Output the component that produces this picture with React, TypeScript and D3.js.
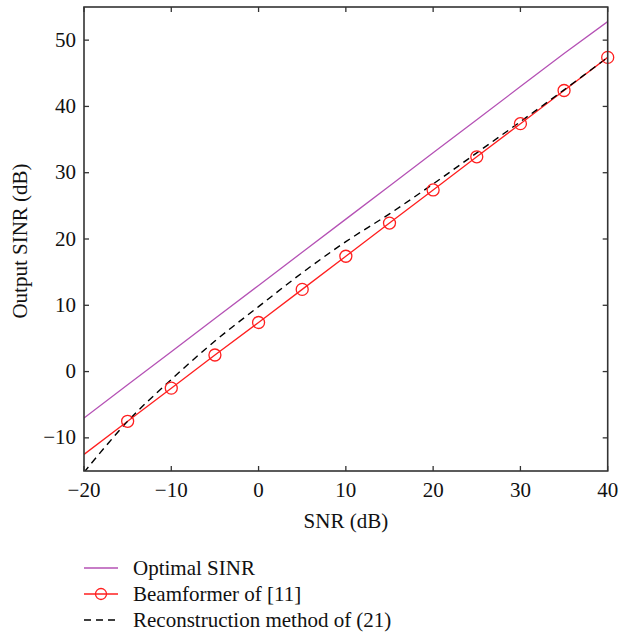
import React from "react";
import * as d3 from "d3";

const snr = [-20, -15, -10, -5, 0, 5, 10, 15, 20, 25, 30, 35, 40];
const optimal = [-7, -2, 3, 8, 13, 18, 23, 28, 33, 38, 43, 48, 52.8];
const beamformer = [-12.5, -7.5, -2.5, 2.5, 7.4, 12.4, 17.4, 22.4, 27.4, 32.4, 37.4, 42.4, 47.4];
const reconstruction = [-15.2, -7.5, -1.2, 4.6, 9.8, 14.9, 19.6, 23.8, 28.3, 33.0, 37.7, 42.5, 47.4];
const xTicks = [-20, -10, 0, 10, 20, 30, 40];
const yTicks = [-10, 0, 10, 20, 30, 40, 50];
const legendLabels = ["Optimal SINR", "Beamformer of [11]", "Reconstruction method of (21)"];

const W = 634, H = 633;
const L = 84, R = 607.7, T = 7, B = 471;
const PURPLE = "#b552b5";
const RED = "#ff1f1f";
const AXIS = "#333333";
const FS = 21;

const fmt = (v: number) => (v < 0 ? "\u2212" + Math.abs(v) : String(v));
const ts: React.CSSProperties = { fontFamily: "'Liberation Serif'", fontSize: FS };

export default function App() {
  const x = d3.scaleLinear().domain([-20, 40]).range([L, R]);
  const y = d3.scaleLinear().domain([-15, 55]).range([B, T]);
  const line = d3.line<number>().x((_, i) => x(snr[i])).y((d) => y(d));
  const smooth = d3
    .line<number>()
    .x((_, i) => x(snr[i]))
    .y((d) => y(d))
    .curve(d3.curveCatmullRom);

  return (
    <svg width={W} height={H} style={{ position: "absolute", left: 0, top: 0 }}>
      <defs>
        <clipPath id="plotclip">
          <rect x={L} y={T} width={R - L} height={B - T} />
        </clipPath>
      </defs>
      <g clipPath="url(#plotclip)" fill="none">
        <path d={line(optimal) || ""} stroke={PURPLE} strokeWidth={1.3} />
        <path d={line(beamformer) || ""} stroke={RED} strokeWidth={1.3} />
        <path d={smooth(reconstruction) || ""} stroke="#000" strokeWidth={1.4} strokeDasharray="7,5" />
      </g>
      <g fill="none" stroke={RED} strokeWidth={1.3}>
        {beamformer.map((v, i) =>
          snr[i] > -20 ? <circle key={i} cx={x(snr[i])} cy={y(v)} r={6} /> : null
        )}
      </g>
      <rect x={L} y={T} width={R - L} height={B - T} fill="none" stroke={AXIS} strokeWidth={1.6} />
      {xTicks.map((t) => (
        <g key={"x" + t}>
          <line x1={x(t)} x2={x(t)} y1={B} y2={B - 5} stroke={AXIS} strokeWidth={1.3} />
          <line x1={x(t)} x2={x(t)} y1={T} y2={T + 5} stroke={AXIS} strokeWidth={1.3} />
          <text x={x(t)} y={497} textAnchor="middle" style={ts} fill="#111">
            {fmt(t)}
          </text>
        </g>
      ))}
      {yTicks.map((t) => (
        <g key={"y" + t}>
          <line x1={L} x2={L + 5} y1={y(t)} y2={y(t)} stroke={AXIS} strokeWidth={1.3} />
          <line x1={R} x2={R - 5} y1={y(t)} y2={y(t)} stroke={AXIS} strokeWidth={1.3} />
          <text x={76} y={y(t) + 6.5} textAnchor="end" style={ts} fill="#111">
            {fmt(t)}
          </text>
        </g>
      ))}
      <text x={(L + R) / 2} y={528} textAnchor="middle" style={ts} fill="#111">
        SNR (dB)
      </text>
      <text
        transform={`translate(27, 241) rotate(-90)`}
        textAnchor="middle"
        style={ts}
        fill="#111"
      >
        Output SINR (dB)
      </text>
      {legendLabels.map((lab, i) => {
        const ly = 568 + i * 26;
        return (
          <g key={lab}>
            {i === 0 && <line x1={84} x2={118} y1={ly} y2={ly} stroke={PURPLE} strokeWidth={1.3} />}
            {i === 1 && (
              <g>
                <line x1={84} x2={118} y1={ly} y2={ly} stroke={RED} strokeWidth={1.3} />
                <circle cx={101} cy={ly} r={5.5} fill="none" stroke={RED} strokeWidth={1.3} />
              </g>
            )}
            {i === 2 && (
              <line x1={84} x2={118} y1={ly} y2={ly} stroke="#000" strokeWidth={1.4} strokeDasharray="7,5" />
            )}
            <text x={133} y={ly + 6.5} style={ts} fill="#111">
              {lab}
            </text>
          </g>
        );
      })}
    </svg>
  );
}
